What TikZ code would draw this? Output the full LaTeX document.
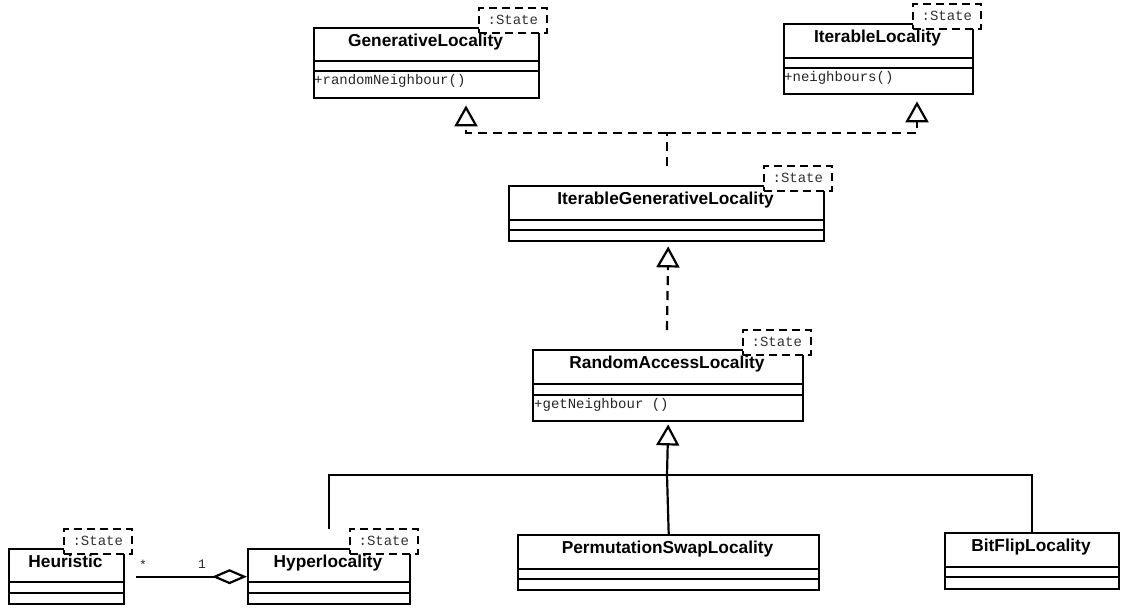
\documentclass[tikz,border=0pt]{standalone}
\usepackage{fontspec}
\setmainfont{Liberation Sans}
\newfontfamily\monof{Liberation Mono}
\usetikzlibrary{arrows.meta,calc}
\tikzset{
  cls/.style={draw, line width=2.4pt, fill=white, anchor=north west, inner sep=0pt},
  sepline/.style={line width=2.4pt},
  ttl/.style={font={\fontsize{17.3}{20}\selectfont\bfseries}, anchor=base, inner sep=0pt},
  meth/.style={font={\monof\fontsize{14}{16}\selectfont}, anchor=base west, inner sep=0pt, text=black!85},
  stbox/.style={draw, dash pattern=on 8pt off 5pt, line width=2.4pt, fill=white, anchor=south east,
    minimum width=68pt, minimum height=25pt, inner sep=0pt, font={\monof\fontsize{14}{16}\selectfont}, text=black!80},
  mult/.style={font={\monof\fontsize{13}{15}\selectfont}, anchor=base, inner sep=0pt, text=black!85},
  gen/.style={line width=2.2pt, -{Triangle[open,length=21pt,width=23pt,line width=2.2pt]}},
  realz/.style={gen, dash pattern=on 9pt off 6pt},
  dashln/.style={line width=2.2pt, dash pattern=on 9pt off 6pt},
  plain/.style={line width=2.2pt},
  agg/.style={line width=2.2pt, -{Diamond[open,length=35pt,width=15pt,line width=2.2pt]}},
}
% #1 name, #2 x1, #3 y1, #4 x2, #5 y2, #6 sep1, #7 sep2
\newcommand\umlcls[8]{%
  \node[cls, minimum width={#4pt-#2pt}, minimum height={#5pt-#3pt}] (#1) at (#2,#3) {};
  \draw[sepline] (#2,#6) -- (#4,#6);
  \draw[sepline] (#2,#7) -- (#4,#7);
}
\newcommand\umlstate[3]{% name, x2, y1
  \node[stbox] (#1s) at (#2+10,#3+7) {:State};
}
\newcommand\umltitle[4]{% name, x1, x2, y1, title follows
  \node[ttl] (#1t) at ({(#2+#3)/2},#4+19)
}
\begin{document}
\begin{tikzpicture}[x=1pt,y=-1pt]
\useasboundingbox (0,0) rectangle (1134,608);

% GenerativeLocality
\umlcls{gl}{313}{27}{538}{97}{61}{71}{}
\umlstate{gl}{538}{27}
\umltitle{gl}{313}{538}{27} {GenerativeLocality};
\node[meth] (glm) at (314,84) {+randomNeighbour()};

% IterableLocality
\umlcls{il}{783}{23}{972}{93}{58}{68}{}
\umlstate{il}{972}{23}
\umltitle{il}{783}{972}{23} {IterableLocality};
\node[meth] (ilm) at (784,81) {+neighbours()};

% IterableGenerativeLocality
\umlcls{igl}{508}{185}{823}{240}{220}{230}{}
\umlstate{igl}{823}{185}
\umltitle{igl}{508}{823}{185} {IterableGenerativeLocality};

% RandomAccessLocality
\umlcls{ral}{532}{349}{802}{420}{384}{395}{}
\umlstate{ral}{802}{349}
\umltitle{ral}{532}{802}{349} {RandomAccessLocality};
\node[meth] (ralm) at (534,408) {+getNeighbour ()};

% Heuristic
\umlcls{heu}{8}{548}{123}{603}{582}{593}{}
\umlstate{heu}{123}{548}
\umltitle{heu}{8}{123}{548} {Heuristic};

% Hyperlocality
\umlcls{hyp}{247}{548}{409}{603}{582}{593}{}
\umlstate{hyp}{409}{548}
\umltitle{hyp}{247}{409}{548} {Hyperlocality};

% PermutationSwapLocality
\umlcls{psl}{517}{534}{818}{589}{569}{579}{}
\umltitle{psl}{517}{818}{534} {PermutationSwapLocality};

% BitFlipLocality
\umlcls{bfl}{944}{532}{1118}{588}{567}{577}{}
\umltitle{bfl}{944}{1118}{532} {BitFlipLocality};

% realizations at top
\coordinate (j1) at (667,133);
\coordinate (igltop) at (667,166);
\draw[dashln] (igltop) -- (j1);
\draw[realz] (j1) -| ($(gl.south west)+(153,6)$);
\draw[realz] (j1) -| ($(il.south west)+(134,6)$);

% RAL -> IGL
\coordinate (raltop) at (667,330);
\draw[realz] (raltop) -- ($(igl.south)+(1.5,4)$);

% children -> RAL
\coordinate (j2) at (667,475);
\draw[gen] (j2) -- ($(ral.south)+(0,2)$);
\draw[plain] ($(hyp.north)+(0,-19)$) |- (j2);
\draw[plain] (psl.north) -- (j2);
\draw[plain] ($(bfl.north west)+(88,0)$) |- (j2);

% aggregation
\draw[agg] ($(heu.east)+(11,0)$) -- (hyp.west);
\node[mult] (m1) at (143,569) {*};
\node[mult] (m2) at (202,568) {1};
\end{tikzpicture}
\end{document}
